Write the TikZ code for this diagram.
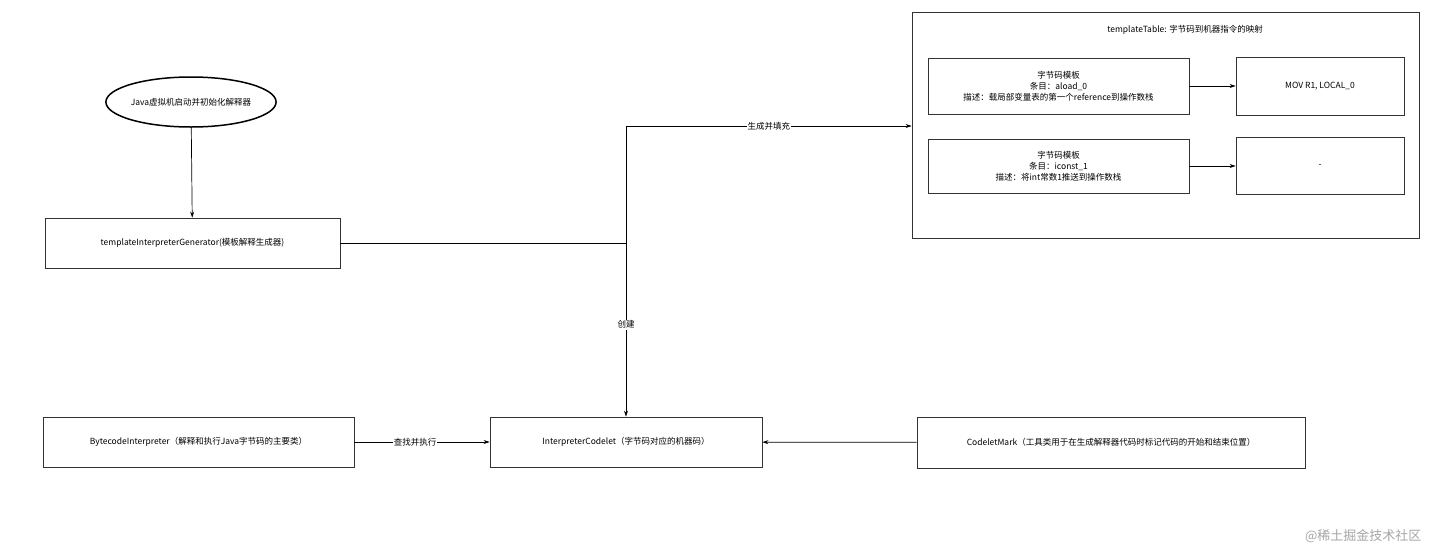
\documentclass[tikz,border=0pt]{standalone}
\usepackage{fontspec}
\setmainfont{Noto Sans CJK SC}
\usetikzlibrary{shapes.geometric,arrows.meta}
\begin{document}
\begin{tikzpicture}[x=1pt,y=-1pt,font=\fontsize{8.5}{11}\selectfont,
  box/.style={draw=black!80,line width=0.7pt,minimum height=50pt,align=center,inner sep=0pt},
  arr/.style={-{Stealth[length=6pt,width=4pt]},line width=0.7pt},
  lab/.style={fill=white,inner sep=1pt}]
\useasboundingbox[fill=white] (0,0) rectangle (1431,552);
\node[draw,ellipse,line width=1.5pt,minimum width=164pt,minimum height=50pt,inner sep=0pt] (jvm) at (191,102) {Java虚拟机启动并初始化解释器};
\node[box,minimum width=295pt] (gen) at (192.5,243) {templateInterpreterGenerator(模板解释生成器)};
\node[draw=black!80,line width=0.7pt,minimum width=507pt,minimum height=226pt,inner sep=0pt] (tab) at (1165.5,125) {};
\node (title) at (1185,30) {templateTable: 字节码到机器指令的映射};
\node[box,minimum width=261pt,minimum height=56pt] (t1) at (1058.5,86) {字节码模板\\条目：aload\_0\\描述：载局部变量表的第一个reference到操作数栈};
\node[box,minimum width=168pt,minimum height=58pt] (m1) at (1320,86) {MOV R1, LOCAL\_0};
\node[box,minimum width=261pt,minimum height=54pt] (t2) at (1058.5,166) {字节码模板\\条目：iconst\_1\\描述：将int常数1推送到操作数栈};
\node[box,minimum width=168pt,minimum height=57pt] (m2) at (1320,166) {-};
\node[box,minimum width=311pt] (bi) at (198.5,442) {BytecodeInterpreter（解释和执行Java字节码的主要类）};
\node[box,minimum width=272pt] (ic) at (626,442) {InterpreterCodelet（字节码对应的机器码）};
\node[box,minimum width=388pt,minimum height=51pt] (cm) at (1111,442.5) {CodeletMark（工具类用于在生成解释器代码时标记代码的开始和结束位置）};
\coordinate (j) at (626,243);
\draw[arr] (jvm) -- (gen);
\draw[line width=0.7pt] (gen) -- (j);
\draw[arr] (j) -- (626,126) -- node[lab]{生成并填充} (tab.west |- 0,126);
\draw[arr] (j) -- node[lab,pos=0.47]{创建} (ic);
\draw[arr] (t1.east) -- (m1.west);
\draw[arr] (t2.east) -- (m2.west);
\draw[arr] (bi) -- node[lab,pos=0.45]{查找并执行} (ic);
\draw[arr] (cm) -- (ic);
\node[text=black!35,font=\fontsize{13}{15}\selectfont,anchor=east] (wm) at (1425,536) {@稀土掘金技术社区};
\end{tikzpicture}
\end{document}
